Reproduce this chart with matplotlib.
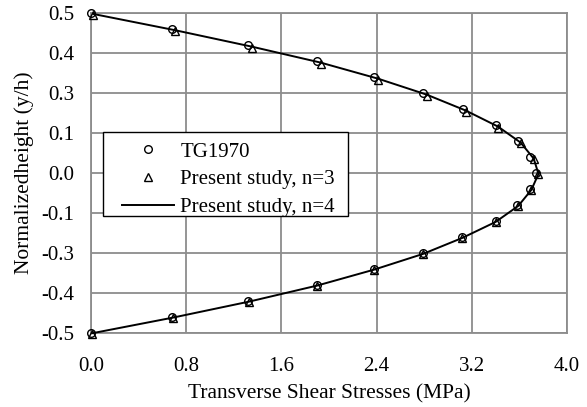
import matplotlib.pyplot as plt
from matplotlib.patches import Rectangle

plt.rcParams['font.family'] = ['Liberation Serif', 'DejaVu Serif']

# normalized height positions (y/h)
y_pts = [0.5, 0.45, 0.4, 0.35, 0.3, 0.25, 0.2, 0.15, 0.1, 0.05, 0.0,
         -0.05, -0.1, -0.15, -0.2, -0.25, -0.3, -0.35, -0.4, -0.45, -0.5]

# TG1970 reference values (MPa)
tg_x = [0.00, 0.68, 1.32, 1.90, 2.38, 2.79, 3.13, 3.40, 3.59, 3.69, 3.74,
        3.69, 3.58, 3.40, 3.12, 2.79, 2.38, 1.90, 1.32, 0.68, 0.00]

# present study, n=3
n3_x = [0.02, 0.71, 1.35, 1.93, 2.41, 2.82, 3.15, 3.42, 3.61, 3.72, 3.76,
        3.70, 3.59, 3.40, 3.12, 2.79, 2.38, 1.90, 1.33, 0.69, 0.01]
n3_y = [0.495, 0.443, 0.392, 0.342, 0.292, 0.242, 0.192, 0.142, 0.093, 0.044, -0.004,
        -0.054, -0.104, -0.154, -0.204, -0.254, -0.303, -0.353, -0.403, -0.453, -0.502]

# present study, n=4
n4_x = [0.02, 0.71, 1.35, 1.93, 2.41, 2.82, 3.15, 3.42, 3.61, 3.72, 3.76,
        3.70, 3.59, 3.40, 3.12, 2.79, 2.38, 1.90, 1.33, 0.69, 0.01]
n4_y = [0.497, 0.446, 0.395, 0.345, 0.295, 0.245, 0.195, 0.145, 0.095, 0.045, -0.003,
        -0.053, -0.103, -0.153, -0.203, -0.253, -0.302, -0.352, -0.402, -0.452, -0.501]

x_ticks = [0.0, 0.8, 1.6, 2.4, 3.2, 4.0]
y_ticks = [0.5, 0.375, 0.25, 0.125, 0.0, -0.125, -0.25, -0.375, -0.5]
y_labels = ['0.5', '0.4', '0.3', '0.1', '0.0', '-0.1', '-0.3', '-0.4', '-0.5']

fig = plt.figure(figsize=(5.87, 4.07), dpi=100)
ax = fig.add_axes([0.155, 0.182, 0.811, 0.786])

grid_c = '#8c8c8c'
ax.plot(tg_x, y_pts, linestyle='none', marker='o', markersize=5.5,
        markerfacecolor='none', markeredgecolor='black', markeredgewidth=1.0,
        label='TG1970', zorder=4, clip_on=False)
ax.plot(n3_x, n3_y, linestyle='none', marker='^', markersize=5.5,
        markerfacecolor='none', markeredgecolor='black', markeredgewidth=1.0,
        label='Present study, n=3', zorder=4, clip_on=False)
ax.plot(n4_x, n4_y, color='black', linewidth=1.4,
        label='Present study, n=4', zorder=3, clip_on=False)

ax.set_xlim(0, 4.0)
ax.set_ylim(-0.5, 0.5)
ax.set_xticks(x_ticks)
ax.set_xticklabels([f'{v:.1f}' for v in x_ticks])
ax.set_yticks(y_ticks)
ax.set_yticklabels(y_labels)
ax.tick_params(length=0, labelsize=15)
ax.tick_params(axis='x', pad=17)
ax.tick_params(axis='y', pad=12)
ax.grid(True, color=grid_c, linewidth=1.3)
ax.set_axisbelow(True)
for s in ax.spines.values():
    s.set_color(grid_c)
    s.set_linewidth(1.3)

ax.set_xlabel('Transverse Shear Stresses (MPa)', fontsize=15.5, labelpad=6)
ax.set_ylabel('Normalizedheight (y/h)', fontsize=15.5, labelpad=5)

# legend frame drawn separately (wider side padding than top/bottom)
frame = Rectangle((0.025, 0.366), 0.515, 0.262, transform=ax.transAxes,
                  facecolor='white', edgecolor='black', linewidth=1.0, zorder=5)
ax.add_patch(frame)
leg = ax.legend(loc='upper left', bbox_to_anchor=(0.065, 0.597),
                fontsize=15, frameon=False, handlelength=2.5, borderpad=0,
                labelspacing=0.4, handletextpad=0.3, borderaxespad=0)
leg.set_zorder(6)

fig.savefig('out.png', dpi=100)
